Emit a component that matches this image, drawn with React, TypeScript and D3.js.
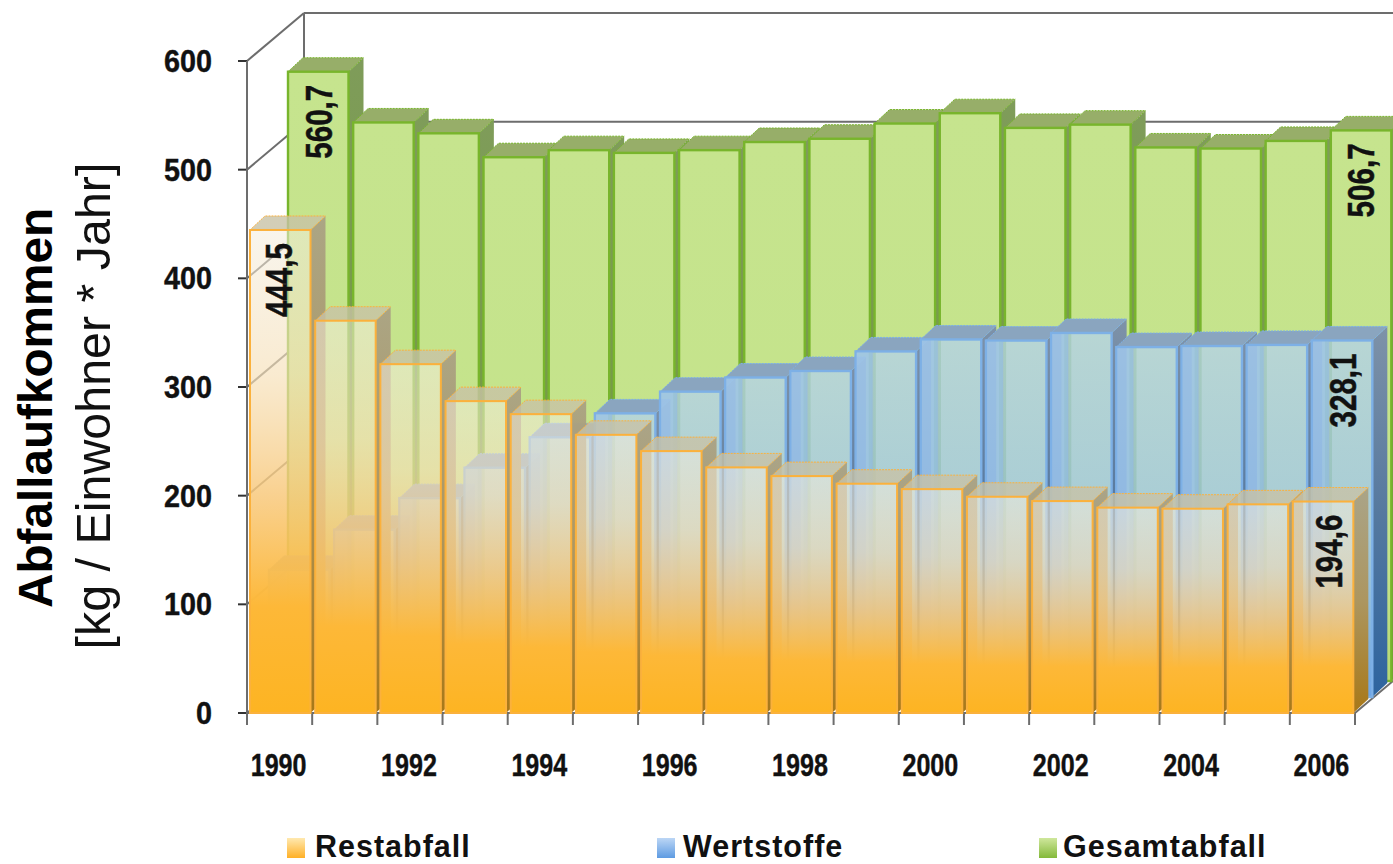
import React from "react";
import * as d3 from "d3";

// Municipal waste per inhabitant (kg / person * year)
const years = d3.range(1990, 2007);
const restabfall = [444.5, 361, 321, 287, 275, 256, 241, 226, 218, 211, 206, 199, 195, 189, 188, 192, 194.6];
const wertstoffe = [117, 154, 183, 211, 239, 261, 281, 294, 300, 318, 329, 328, 335, 322, 323, 324, 328.1];
const gesamtabfall = [560.7, 514, 504, 482, 488.5, 486, 488.5, 496, 499, 513, 522.5, 509, 512, 491, 490, 497, 506.7];
const valueTicks = [0, 100, 200, 300, 400, 500, 600];
const yearLabels = years.filter((y) => y % 2 === 0);

const W = 1393;
const H = 864;

const y = d3.scaleLinear().domain([0, 600]).range([713, 61]);
const x = d3.scaleBand<number>().domain(years).range([247, 1355]);

// Projection of the depth axis: each row of bars steps back and up
const rowDx = 19;
const rowDy = -16;
const wallDx = 57;
const wallDy = -48;
const barDx = 15;
const barDy = -14;
const barInsetLeft = 3;
const barWidth = 60.5;

type Row = {
  id: string;
  values: number[];
  row: number;
  stroke: string;
  strokeWidth: number;
  strip?: string;
};

const rows: Row[] = [
  { id: "green", values: gesamtabfall, row: 2, stroke: "#78b52c", strokeWidth: 2.4 },
  { id: "blue", values: wertstoffe, row: 1, stroke: "#7db0e6", strokeWidth: 2.4, strip: "#8fbcea" },
  { id: "orange", values: restabfall, row: 0, stroke: "#fbb13c", strokeWidth: 2 },
];

const stops = (list: [number, string, number][]) =>
  list.map(([o, c, a]) => <stop key={o} offset={o} stopColor={c} stopOpacity={a} />);

const Gradient = ({ id, list }: { id: string; list: [number, string, number][] }) => (
  <linearGradient id={id} x1="0" y1="0" x2="0" y2="1">
    {stops(list)}
  </linearGradient>
);

const poly = (pts: [number, number][]) => d3.line()(pts) + "Z";

const Bars = ({ r }: { r: Row }) => (
  <g>
    {r.values.map((v, i) => {
      const left = x(years[i])! + barInsetLeft + r.row * rowDx;
      const right = left + barWidth;
      const base = y(0) + r.row * rowDy;
      const top = y(v) + r.row * rowDy;
      return (
        <g key={years[i]}>
          <path
            d={poly([
              [right, top],
              [right + barDx, top + barDy],
              [right + barDx, base + barDy],
              [right, base],
            ])}
            fill={`url(#${r.id}-side)`}
          />
          <path
            d={poly([
              [left, top],
              [left + barDx, top + barDy],
              [right + barDx, top + barDy],
              [right, top],
            ])}
            fill={`url(#${r.id}-top)`}
            stroke={r.stroke}
            strokeWidth={1}
            strokeDasharray="2 1"
          />
          <rect
            x={left}
            y={top}
            width={barWidth}
            height={base - top}
            fill={`url(#${r.id}-front)`}
            stroke={r.stroke}
            strokeWidth={r.strokeWidth}
          />
          {r.strip && (
            <rect
              x={left + 1}
              y={top + 1}
              width={16}
              height={base - top - 1}
              fill={r.strip}
              opacity={0.55}
            />
          )}
        </g>
      );
    })}
  </g>
);

const numberFont = "'Liberation Sans', Arial, sans-serif";

const fmt = (v: number) => v.toFixed(1).replace(".", ",");

// Values printed rotated inside the first and last bars; shift runs from the bar's left edge to the text baseline
const valueLabels = [
  { value: gesamtabfall[0], i: 0, row: 2, shift: 43.5 },
  { value: restabfall[0], i: 0, row: 0, shift: 41.5 },
  { value: gesamtabfall[16], i: 16, row: 2, shift: 43.5 },
  { value: wertstoffe[16], i: 16, row: 1, shift: 44.5 },
  { value: restabfall[16], i: 16, row: 0, shift: 49.5 },
];

const legend = [
  { label: "Restabfall", sx: 287, tx: 315, grad: "swatch-orange" },
  { label: "Wertstoffe", sx: 657, tx: 683, grad: "swatch-blue" },
  { label: "Gesamtabfall", sx: 1039, tx: 1063, grad: "swatch-green" },
];

export default function App() {
  const bx = x(1990)!;
  const xEnd = x.range()[1];
  const band = x.bandwidth();
  const wallColor = "#6d6d6d";
  return (
    <svg
      width={W}
      height={H}
      viewBox={`0 0 ${W} ${H}`}
      style={{ position: "absolute", left: 0, top: 0, background: "#fff" }}
    >
      <defs>
        <Gradient id="green-front" list={[[0, "#c6e48e", 1], [0.8, "#c4e38a", 1], [1, "#b4d874", 1]]} />
        <Gradient id="green-side" list={[[0, "#7f9c5a", 1], [1, "#6d9a34", 1]]} />
        <Gradient id="green-top" list={[[0, "#97ae69", 1], [1, "#97ae69", 1]]} />
        <Gradient id="blue-front" list={[[0, "#b4d2e6", 0.8], [0.5, "#a0c6ea", 0.78], [1, "#6ea6e6", 1]]} />
        <Gradient id="blue-side" list={[[0, "#7e92a8", 1], [0.5, "#56799f", 1], [1, "#2d649f", 1]]} />
        <Gradient id="blue-top" list={[[0, "#8aa5bf", 1], [1, "#8aa5bf", 1]]} />
        <Gradient
          id="orange-front"
          list={[
            [0, "#f3ecdc", 0.55],
            [0.3, "#f6e0b8", 0.66],
            [0.55, "#f8c87a", 0.84],
            [0.78, "#fdb838", 1],
            [1, "#fdb422", 1],
          ]}
        />
        <Gradient id="orange-side" list={[[0, "#aaa284", 0.95], [0.5, "#ac9660", 1], [1, "#a87818", 1]]} />
        <Gradient id="orange-top" list={[[0, "#c8c2a6", 0.8], [1, "#c8c2a6", 0.8]]} />
        <Gradient id="swatch-orange" list={[[0, "#ffe9b0", 1], [1, "#ffb026", 1]]} />
        <Gradient id="swatch-blue" list={[[0, "#bcd6f5", 1], [1, "#5e9be2", 1]]} />
        <Gradient id="swatch-green" list={[[0, "#cfe79c", 1], [1, "#84b93a", 1]]} />
      </defs>

      {/* back wall and side wall */}
      <g stroke={wallColor} strokeWidth={2} fill="none">
        {valueTicks.map((t) => (
          <g key={t}>
            <line x1={bx + wallDx} x2={W} y1={y(t) + wallDy} y2={y(t) + wallDy} />
            <line x1={bx} x2={bx + wallDx} y1={y(t)} y2={y(t) + wallDy} />
            <line x1={bx - 9} x2={bx} y1={y(t)} y2={y(t)} stroke="#333" />
          </g>
        ))}
        <line x1={bx + wallDx} x2={bx + wallDx} y1={y(600) + wallDy} y2={y(0) + wallDy} />
        <line x1={bx} x2={bx} y1={y(600)} y2={y(0)} />
        <line x1={xEnd} x2={xEnd + wallDx} y1={y(0)} y2={y(0) + wallDy} />
        <line x1={bx} x2={xEnd} y1={y(0)} y2={y(0)} />
        {years.concat([2007]).map((yr, i) => (
          <line key={yr} x1={bx + i * band} x2={bx + i * band} y1={y(0)} y2={y(0) + 12} />
        ))}
      </g>

      {rows.map((r) => (
        <Bars key={r.id} r={r} />
      ))}

      {/* rotated value labels */}
      {valueLabels.map((l) => {
        const left = x(years[l.i])! + barInsetLeft + l.row * rowDx;
        const top = y(l.value) + l.row * rowDy;
        return (
          <text
            key={l.row + "-" + l.i}
            transform={`translate(${left + l.shift},${top + 13}) rotate(-90) scale(0.8,1)`}
            textAnchor="end"
            fontFamily={numberFont}
            fontWeight="bold"
            fontSize={37}
            fill="#111"
            stroke="#111"
            strokeWidth={0.5}
          >
            {fmt(l.value)}
          </text>
        );
      })}

      {/* value axis labels */}
      {valueTicks.map((t) => (
        <text
          key={t}
          transform={`translate(212,${y(t)}) scale(0.93,1)`}
          dy="0.36em"
          textAnchor="end"
          fontFamily={numberFont}
          fontWeight="bold"
          fontSize={31}
          fill="#111"
          stroke="#111"
          strokeWidth={0.4}
        >
          {t}
        </text>
      ))}

      {/* year labels */}
      {yearLabels.map((yr) => (
        <text
          key={yr}
          transform={`translate(${x(yr)! + band / 2 - 1},776) scale(0.81,1)`}
          textAnchor="middle"
          fontFamily={numberFont}
          fontWeight="bold"
          fontSize={31}
          fill="#111"
          stroke="#111"
          strokeWidth={0.4}
        >
          {yr}
        </text>
      ))}

      {/* axis title */}
      <text
        transform="translate(52,408) rotate(-90)"
        textAnchor="middle"
        fontFamily={numberFont}
        fontWeight="bold"
        fontSize={47.7}
        fill="#000"
      >
        Abfallaufkommen
      </text>
      <text
        transform="translate(110,406) rotate(-90)"
        textAnchor="middle"
        fontFamily={numberFont}
        fontSize={48.4}
        fill="#111"
      >
        [kg / Einwohner * Jahr]
      </text>

      {/* legend */}
      {legend.map((l) => (
        <g key={l.label}>
          <rect x={l.sx} y={838} width={18} height={20} fill={`url(#${l.grad})`} />
          <text
            x={l.tx}
            y={857}
            fontFamily={numberFont}
            fontWeight="bold"
            fontSize={30.5}
            letterSpacing={1}
            fill="#111"
          >
            {l.label}
          </text>
        </g>
      ))}
    </svg>
  );
}
